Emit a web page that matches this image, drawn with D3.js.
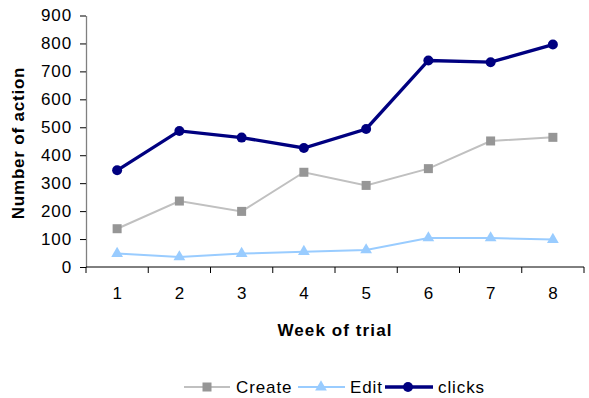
<!DOCTYPE html>
<html><head><meta charset="utf-8">
<script src="https://cdn.jsdelivr.net/npm/d3@7"></script>
<style>body{margin:0;background:#fff}svg{display:block;font-family:"Liberation Sans",Arial,sans-serif}</style>
</head><body><svg id="c" width="589" height="398"></svg>
<script>
const weeks = ["1","2","3","4","5","6","7","8"];
const createVals = [137, 236, 199, 339, 292, 352, 451, 464];
const editVals = [48, 36, 48, 55, 61, 104, 104, 98];
const clicksVals = [346, 487, 463, 426, 494, 739, 733, 796];
const yTicks = [0,100,200,300,400,500,600,700,800,900];

const svg = d3.select("#c");
const pL = 86, pR = 584, pT = 15.5, pB = 267;
const x = d3.scaleBand().domain(weeks).range([pL, pR]);
const y = d3.scaleLinear().domain([0, 900]).range([pB, pT]);
const FS = 17, LS = "0.9px";

// y axis
const ya = svg.append("g").attr("transform", `translate(${pL},0)`)
  .call(d3.axisLeft(y).tickValues(yTicks).tickSize(6).tickSizeOuter(0).tickPadding(8));
ya.select(".domain").attr("stroke", "#808080").attr("stroke-width", 1.3);
ya.selectAll("line").attr("stroke", "#000");
ya.selectAll("text").attr("font-size", FS).attr("letter-spacing", LS).attr("fill", "#000").attr("font-family", "Liberation Sans, Arial, sans-serif");

// x axis
const xa = svg.append("g").attr("transform", `translate(0,${pB})`)
  .call(d3.axisBottom(x).tickSize(0).tickPadding(20));
xa.select(".domain").attr("stroke", "#000").attr("d", `M${pL},0H${pR}`);
xa.selectAll("text").attr("font-size", FS).attr("fill", "#000").attr("font-family", "Liberation Sans, Arial, sans-serif");
const bounds = weeks.map(w => x(w)).concat([pR]);
xa.selectAll("line.bt").data(bounds).enter().append("line").attr("class","bt")
  .attr("x1", d => d).attr("x2", d => d).attr("y1", 0).attr("y2", 6).attr("stroke", "#000");

// titles
svg.append("text").attr("x", 335).attr("y", 336).attr("text-anchor", "middle")
  .attr("font-size", FS).attr("letter-spacing", "1.1px").attr("font-weight", "bold").text("Week of trial");
svg.append("text").attr("transform", "translate(24,143) rotate(-90)").attr("text-anchor", "middle")
  .attr("font-size", FS).attr("letter-spacing", "0.8px").attr("font-weight", "bold").text("Number of action");

const cx = w => x(w) + x.bandwidth() / 2;
const line = d3.line().x((d, i) => cx(weeks[i])).y(d => y(d));

// Edit
svg.append("path").datum(editVals).attr("d", line).attr("fill", "none").attr("stroke", "#99ccff").attr("stroke-width", 2);
const tri = d3.symbol().type(d3.symbolTriangle).size(60);
svg.selectAll("path.tri").data(editVals).enter().append("path").attr("class","tri")
  .attr("d", tri).attr("transform", (d, i) => `translate(${cx(weeks[i])},${y(d)})`).attr("fill", "#99ccff");

// Create
svg.append("path").datum(createVals).attr("d", line).attr("fill", "none").attr("stroke", "#c0c0c0").attr("stroke-width", 2);
svg.selectAll("rect.sq").data(createVals).enter().append("rect").attr("class","sq")
  .attr("x", (d, i) => cx(weeks[i]) - 4.5).attr("y", d => y(d) - 4.5).attr("width", 9).attr("height", 9).attr("fill", "#969696");

// clicks
svg.append("path").datum(clicksVals).attr("d", line).attr("fill", "none").attr("stroke", "#000080").attr("stroke-width", 3.3);
svg.selectAll("circle.ck").data(clicksVals).enter().append("circle").attr("class","ck")
  .attr("cx", (d, i) => cx(weeks[i])).attr("cy", d => y(d)).attr("r", 5).attr("fill", "#000080");

// legend
const ly = 387;
const lg = svg.append("g");
lg.append("line").attr("x1", 184).attr("x2", 230).attr("y1", ly).attr("y2", ly).attr("stroke", "#c0c0c0").attr("stroke-width", 2);
lg.append("rect").attr("x", 202.5).attr("y", ly - 4.5).attr("width", 9).attr("height", 9).attr("fill", "#969696");
lg.append("text").attr("x", 236).attr("y", ly + 6).attr("font-size", FS).attr("letter-spacing", LS).text("Create");
lg.append("line").attr("x1", 298).attr("x2", 345).attr("y1", ly).attr("y2", ly).attr("stroke", "#99ccff").attr("stroke-width", 2);
lg.append("path").attr("d", tri).attr("transform", `translate(321,${ly})`).attr("fill", "#99ccff");
lg.append("text").attr("x", 350).attr("y", ly + 6).attr("font-size", FS).attr("letter-spacing", LS).text("Edit");
lg.append("line").attr("x1", 385).attr("x2", 433).attr("y1", ly).attr("y2", ly).attr("stroke", "#000080").attr("stroke-width", 3.3);
lg.append("circle").attr("cx", 408).attr("cy", ly).attr("r", 5).attr("fill", "#000080");
lg.append("text").attr("x", 438).attr("y", ly + 6).attr("font-size", FS).attr("letter-spacing", LS).text("clicks");
</script></body></html>
